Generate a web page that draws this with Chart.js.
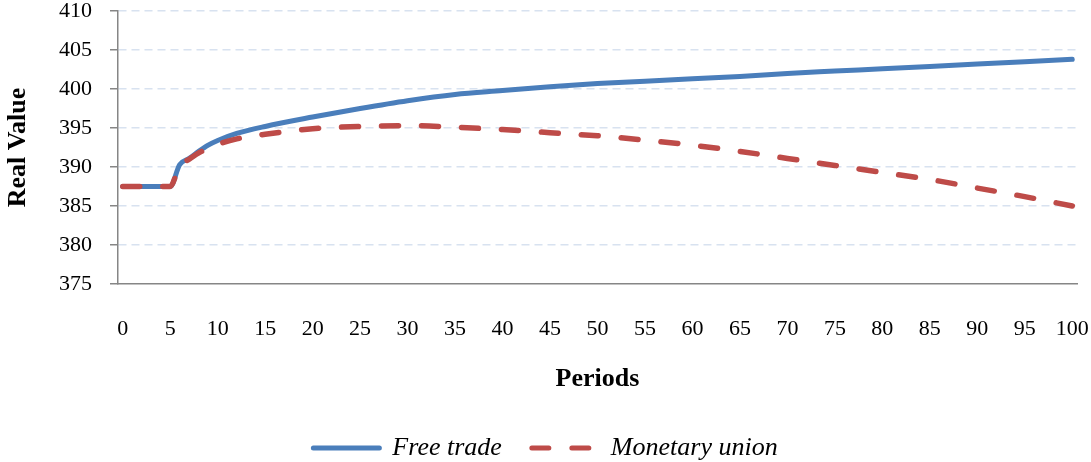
<!DOCTYPE html>
<html lang="en">
<head>
<meta charset="UTF-8" />
<title>Real Value - Free trade vs Monetary union</title>
<style>
  html, body { margin: 0; padding: 0; background: #ffffff; }
  .wrap { width: 1091px; height: 462px; position: relative; }
</style>
</head>
<body>
  <div class="wrap"><canvas id="chart" width="1091" height="462"></canvas></div>

  <script src="https://cdn.jsdelivr.net/npm/chart.js"></script>
  <script>
    const periods = [0, 1, 2, 3, 4, 5, 6, 7, 8, 9, 10, 12, 15, 20, 25, 30, 35, 40, 45, 50,
                     55, 60, 65, 70, 75, 80, 85, 90, 95, 100];
    const freeTrade = [387.5, 387.5, 387.5, 387.5, 387.5, 387.5, 390.3, 391.1, 392.0, 392.8, 393.4, 394.3, 395.2,
                       396.4, 397.5, 398.5, 399.3, 399.8, 400.3, 400.7, 401.0, 401.3, 401.6, 402.0, 402.3,
                       402.6, 402.9, 403.2, 403.5, 403.8];
    const monetaryUnion = [387.5, 387.5, 387.5, 387.5, 387.5, 387.5, 390.2, 391.0, 391.8, 392.4, 392.9, 393.6, 394.2,
                           394.9, 395.2, 395.3, 395.1, 394.8, 394.4, 394.0, 393.45, 392.8, 392.0, 391.1, 390.2,
                           389.3, 388.4, 387.3, 386.2, 385.0];
    const xTicks = [0, 5, 10, 15, 20, 25, 30, 35, 40, 45, 50, 55, 60, 65, 70, 75, 80, 85, 90, 95, 100];
    const yTicks = [375, 380, 385, 390, 395, 400, 405, 410];
    const seriesNames = ['Free trade', 'Monetary union'];

    const BLUE = '#4a7ebb';
    const RED = '#be4b48';
    const AXIS = '#868686';
    const GRID = '#d8e2f0';
    const SERIF = "'Liberation Serif', 'Times New Roman', serif";

    const toPoints = vals => periods.map((p, i) => ({ x: p, y: vals[i] }));

    // pull the legend row down closer to the bottom edge
    const legendFit = {
      id: 'legendFit',
      beforeInit(chart) {
        const fit = chart.legend.fit;
        chart.legend.fit = function () {
          fit.bind(chart.legend)();
          this.height -= 9;
        };
      }
    };

    new Chart(document.getElementById('chart'), {
      type: 'line',
      data: {
        datasets: [
          {
            label: seriesNames[0],
            data: toPoints(freeTrade),
            borderColor: BLUE,
            backgroundColor: BLUE,
            borderWidth: 5,
            borderCapStyle: 'round',
            pointRadius: 0,
            cubicInterpolationMode: 'monotone',
            order: 2
          },
          {
            label: seriesNames[1],
            data: toPoints(monetaryUnion),
            borderColor: RED,
            backgroundColor: RED,
            borderWidth: 5.5,
            borderDash: [17, 23],
            borderCapStyle: 'round',
            pointRadius: 0,
            cubicInterpolationMode: 'monotone',
            order: 1
          }
        ]
      },
      options: {
        responsive: false,
        animation: false,
        devicePixelRatio: 1,
        layout: { padding: { top: 11, right: 0, bottom: 0, left: 0 } },
        scales: {
          x: {
            type: 'linear',
            min: -0.5,
            max: 100.5,
            afterBuildTicks: s => { s.ticks = xTicks.map(v => ({ value: v })); },
            afterFit: s => { s.height = 121; s.paddingLeft = 0; s.paddingRight = 14; },
            grid: { display: false, drawTicks: false },
            border: { display: true, color: AXIS, width: 1.5 },
            ticks: {
              padding: 32,
              maxRotation: 0,
              autoSkip: false,
              color: '#000',
              font: { family: SERIF, size: 22 }
            },
            title: {
              display: true,
              text: 'Periods',
              color: '#000',
              padding: { top: 0, bottom: 10 },
              font: { family: SERIF, size: 26, weight: 'bold' }
            }
          },
          y: {
            min: 375,
            max: 410,
            afterBuildTicks: s => { s.ticks = yTicks.map(v => ({ value: v })); },
            afterFit: s => { s.width = 118; s.paddingTop = 0; s.paddingBottom = 0; },
            grid: {
              color: ctx => (ctx.tick && ctx.tick.value === 375 ? 'rgba(0,0,0,0)' : GRID),
              lineWidth: 1.5,
              drawTicks: true,
              tickLength: 8,
              tickColor: AXIS,
              tickWidth: 1.5,
              tickBorderDash: []
            },
            border: { display: true, color: AXIS, width: 1.5, dash: [8, 5] },
            ticks: {
              padding: 18,
              color: '#000',
              font: { family: SERIF, size: 22 }
            },
            title: {
              display: true,
              text: 'Real Value',
              color: '#000',
              padding: { top: 3, bottom: 0 },
              font: { family: SERIF, size: 26, weight: 'bold' }
            }
          }
        },
        plugins: {
          tooltip: { enabled: false },
          legend: {
            position: 'bottom',
            labels: {
              usePointStyle: true,
              pointStyleWidth: 66,
              padding: 30,
              color: '#000',
              font: { family: SERIF, size: 26, style: 'italic' },
              generateLabels: chart => chart.data.datasets.map((ds, i) => ({
                text: ds.label,
                datasetIndex: i,
                pointStyle: 'line',
                strokeStyle: ds.borderColor,
                fillStyle: ds.borderColor,
                lineWidth: 5,
                lineCap: 'round',
                lineDash: ds.borderDash || [],
                hidden: false
              }))
            }
          }
        }
      },
      plugins: [legendFit]
    });
  </script>
</body>
</html>
